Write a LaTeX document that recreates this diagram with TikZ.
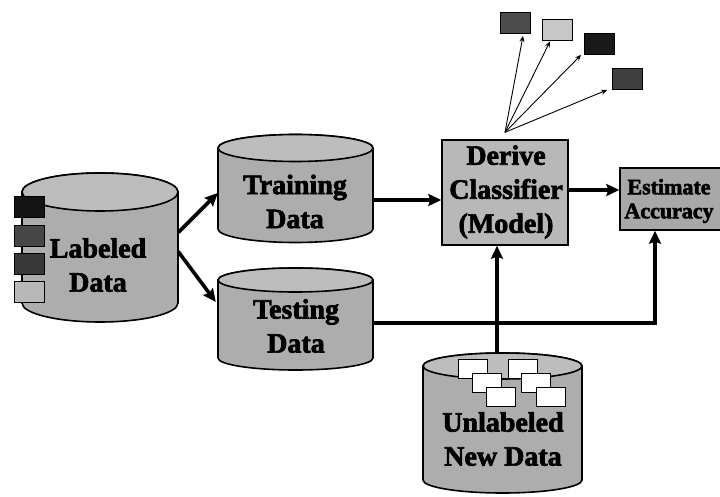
\documentclass[tikz,border=0pt]{standalone}
\usepackage{fontspec}
\setmainfont{Liberation Serif}[BoldFeatures={FakeBold=2.4}]
\usetikzlibrary{arrows.meta}

\definecolor{cylgray}{gray}{0.68}
\definecolor{topgray}{gray}{0.74}
\definecolor{boxgray}{gray}{0.72}
\definecolor{estgray}{gray}{0.66}

% cylinder: name, cx, y of top ellipse, y of bottom ellipse, rx, ry
\newcommand\dbcyl[6]{%
  \filldraw[cylline, fill=cylgray]
    ({#2-#5},#3) -- ({#2-#5},#4)
    arc[start angle=180, end angle=360, x radius=#5, y radius=#6]
    -- ({#2+#5},#3)
    arc[start angle=0, end angle=180, x radius=#5, y radius=#6] -- cycle;
  \filldraw[cylline, fill=topgray] (#2,#3) ellipse[x radius=#5, y radius=#6];
  \node[inner sep=0pt, minimum width={2*#5}, minimum height={#3-#4+2*#6}]
    (#1) at (#2,{(#3+#4)/2}) {};
}

\tikzset{
  x=1pt, y=1pt,
  cylline/.style={draw=black, line width=1.6pt},
  bigtext/.style={font=\fontsize{28}{34}\selectfont\bfseries, align=center, inner sep=0pt},
  smalltext/.style={font=\fontsize{22}{24}\selectfont\bfseries, align=center, inner sep=0pt},
  procbox/.style={draw=black, line width=1.4pt, fill=boxgray, inner sep=0pt},
  flow/.style={line width=3.6pt, -{Stealth[length=13pt, width=12pt, inset=2pt]}},
  fanline/.style={line width=0.9pt, -{Stealth[length=6pt, width=5pt]}},
  tag/.style={draw=black, line width=0.8pt, inner sep=0pt, minimum width=30pt, minimum height=21pt},
  sheet/.style={draw=black, line width=1pt, fill=white, inner sep=0pt, minimum width=29pt, minimum height=19pt},
}

\begin{document}
\begin{tikzpicture}
\clip (0,0) rectangle (720,496);
\useasboundingbox (0,0) rectangle (720,496);

% data stores
\dbcyl{lab}{100}{304}{193}{78}{19}
\dbcyl{train}{295.5}{348}{267}{77.5}{13.5}
\dbcyl{test}{295.5}{216}{138}{77.5}{12}
\dbcyl{unl}{502.5}{130}{16}{79.5}{13}

% class tags on the labeled store
\node[tag, fill=black!92] (l1) at (29,289.5) {};
\node[tag, fill=black!72] (l2) at (29,260.5) {};
\node[tag, fill=black!78] (l3) at (29,232.5) {};
\node[tag, fill=black!28] (l4) at (29,204) {};

% unlabeled records
\node[sheet] (w1) at (472.5,127) {};
\node[sheet] (w2) at (522.5,127.5) {};
\node[sheet] (w3) at (487,113.5) {};
\node[sheet] (w4) at (536,113) {};
\node[sheet] (w5) at (501,99) {};
\node[sheet] (w6) at (551,99) {};

% store labels
\node[bigtext] (labt) at (98,231) {Labeled\\Data};
\node[bigtext] (traint) at (295,294.5) {Training\\Data};
\node[bigtext] (testt) at (296,170) {Testing\\Data};
\node[bigtext] (unlt) at (503,57) {Unlabeled\\New Data};

% process boxes
\node[procbox, minimum width=126pt, minimum height=105pt] (der) at (505,303.5) {};
\node[bigtext] (dert) at (506,304) {Derive\\Classifier\\(Model)};
\node[procbox, fill=estgray, minimum width=102pt, minimum height=62pt] (est) at (671,297) {};
\node[smalltext] (estt) at (669,295) {Estimate\\Accuracy};

% predicted classes
\node[tag, fill=black!70] (o1) at (515,473) {};
\node[tag, fill=black!22] (o2) at (557.5,466.5) {};
\node[tag, fill=black!90] (o3) at (599.5,452) {};
\node[tag, fill=black!75] (o4) at (627.5,417) {};

% split of the labeled data
\draw[flow] ([yshift=15pt]lab.east) -- ([yshift=-4.5pt]train.west);
\draw[flow] ([yshift=-4pt]lab.east) -- ([xshift=-2pt,yshift=17pt]test.west);

% training and evaluation flow
\coordinate (t1) at ([yshift=-11.5pt]train.east);
\draw[flow] (t1) -- (t1 -| der.west);
\coordinate (d1) at ([yshift=2.5pt]der.east);
\draw[flow] (d1) -- (d1 -| est.west);
\coordinate (s1) at ([yshift=-4pt]test.east);
\coordinate (e1) at ([xshift=-16pt]est.south);
\draw[flow] (s1) -| (e1);
\coordinate (u1) at ([xshift=-5.5pt]unl.north);
\draw[flow] (u1) -- (u1 |- der.south);

% model applied to new data
\coordinate (fan) at ([yshift=7pt]der.north);
\draw[fanline] (fan) -- ([xshift=8pt,yshift=-2pt]o1.south);
\draw[fanline] (fan) -- ([xshift=-7.5pt,yshift=-1pt]o2.south);
\draw[fanline] (fan) -- ([xshift=-3pt]o3.south west);
\draw[fanline] (fan) -- ([xshift=-5pt]o4.south west);
\end{tikzpicture}
\end{document}
